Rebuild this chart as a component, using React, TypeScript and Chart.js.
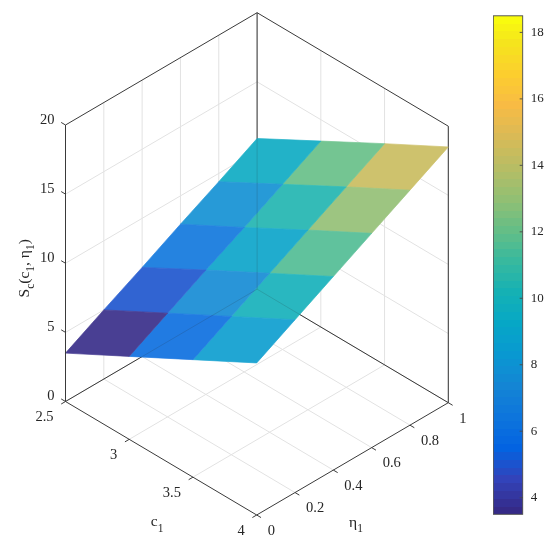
import React, { useEffect, useRef } from "react";
import { Chart, registerables } from "chart.js";

Chart.register(...registerables);

// ---------------- data ----------------
const C_VALUES = [2.5, 3, 3.5, 4];
const ETA_VALUES = [0, 0.2, 0.4, 0.6, 0.8, 1];
// S_c(c_1, eta_1) read at every grid node, one list per c value (along eta)
const S_AT_C_2_5 = [3.5, 5.0, 6.45, 7.95, 9.4, 10.9];
const S_AT_C_3_0 = [6.0, 7.5, 9.0, 10.45, 11.95, 13.45];
const S_AT_C_3_5 = [8.5, 10.0, 11.5, 13.0, 14.5, 16.0];
const S_AT_C_4_0 = [11.0, 12.5, 14.0, 15.5, 17.0, 18.5];

const C_LIMITS = [2.5, 4];
const ETA_LIMITS = [0, 1];
const Z_LIMITS = [0, 20];
const C_TICKS = [2.5, 3, 3.5, 4];
const C_TICK_LABELS = ["2.5", "3", "3.5", "4"];
const ETA_TICKS = [0, 0.2, 0.4, 0.6, 0.8, 1];
const ETA_TICK_LABELS = ["0", "0.2", "0.4", "0.6", "0.8", "1"];
const Z_TICKS = [0, 5, 10, 15, 20];
const Z_TICK_LABELS = ["0", "5", "10", "15", "20"];
const CB_LIMITS = [3.5, 18.5];
const CB_TICKS = [4, 6, 8, 10, 12, 14, 16, 18];

// ---------------- style ----------------
const FONT = '"Liberation Serif", "Times New Roman", serif';
const TEXT = "#262626";
const AXIS = "#3a3a3a";
const GRID = "#e2e2e2";
const FACE_ALPHA = 0.9;
const VIEW = { ox: 65.5, oy: 401.5, cdx: 191.2, cdy: 113.5, edx: 191.6, edy: -112.3, zdy: -276.5 };

// parula colormap anchors (index in 64-colour map, r, g, b)
const PARULA_ANCHORS = [
  [0, 53, 42, 135], [4, 50, 67, 186], [8, 3, 99, 225], [12, 13, 117, 220],
  [16, 20, 133, 212], [20, 9, 152, 209], [24, 6, 167, 198], [28, 21, 177, 180],
  [32, 56, 185, 158], [36, 101, 190, 134], [40, 146, 191, 115], [44, 183, 189, 100],
  [48, 217, 186, 86], [52, 248, 187, 68], [56, 252, 206, 46], [60, 245, 228, 29],
  [63, 249, 251, 14],
];

function parulaAt(k: number): number[] {
  for (let i = 0; i < PARULA_ANCHORS.length - 1; i++) {
    const a = PARULA_ANCHORS[i];
    const b = PARULA_ANCHORS[i + 1];
    if (k >= a[0] && k <= b[0]) {
      const t = (k - a[0]) / (b[0] - a[0]);
      return [1, 2, 3].map((j) => a[j] + (b[j] - a[j]) * t);
    }
  }
  const l = PARULA_ANCHORS[PARULA_ANCHORS.length - 1];
  return [l[1], l[2], l[3]];
}

function levelOf(v: number): number {
  const t = (v - CB_LIMITS[0]) / (CB_LIMITS[1] - CB_LIMITS[0]);
  return Math.max(0, Math.min(63, Math.floor(t * 64)));
}

function faceColor(v: number): string {
  const rgb = parulaAt(levelOf(v)).map((c) => Math.round(c * FACE_ALPHA + 255 * (1 - FACE_ALPHA)));
  return `rgb(${rgb[0]},${rgb[1]},${rgb[2]})`;
}

function proj(c: number, e: number, z: number) {
  const u = (c - C_LIMITS[0]) / (C_LIMITS[1] - C_LIMITS[0]);
  const v = (e - ETA_LIMITS[0]) / (ETA_LIMITS[1] - ETA_LIMITS[0]);
  const w = (z - Z_LIMITS[0]) / (Z_LIMITS[1] - Z_LIMITS[0]);
  return {
    x: VIEW.ox + u * VIEW.cdx + v * VIEW.edx,
    y: VIEW.oy + u * VIEW.cdy + v * VIEW.edy + w * VIEW.zdy,
  };
}

type P3 = [number, number, number];

function lineDs(a: P3, b: P3, color: string, width: number, order: number) {
  return {
    data: [proj(a[0], a[1], a[2]), proj(b[0], b[1], b[2])],
    showLine: true,
    borderColor: color,
    borderWidth: width,
    pointRadius: 0,
    pointHoverRadius: 0,
    pointHitRadius: 0,
    fill: false,
    clip: false,
    order,
  };
}

function polyDs(pts: P3[], color: string, order: number) {
  const data = pts.map((p) => proj(p[0], p[1], p[2]));
  data.push(data[0]);
  return {
    data,
    showLine: true,
    fill: "shape",
    backgroundColor: color,
    borderColor: color,
    borderWidth: 0.7,
    pointRadius: 0,
    pointHoverRadius: 0,
    pointHitRadius: 0,
    clip: false,
    order,
  };
}

function buildDatasets() {
  const [c0, c1] = C_LIMITS;
  const [e0, e1] = ETA_LIMITS;
  const [z0, z1] = Z_LIMITS;
  const ds: any[] = [];
  const innerC = C_TICKS.filter((c) => c > c0 && c < c1);
  const innerE = ETA_TICKS.filter((e) => e > e0 && e < e1);
  const innerZ = Z_TICKS.filter((z) => z > z0 && z < z1);
  // grid: floor
  innerC.forEach((c) => ds.push(lineDs([c, e0, z0], [c, e1, z0], GRID, 1, 100)));
  innerE.forEach((e) => ds.push(lineDs([c0, e, z0], [c1, e, z0], GRID, 1, 100)));
  // grid: wall c = c0
  innerE.forEach((e) => ds.push(lineDs([c0, e, z0], [c0, e, z1], GRID, 1, 100)));
  innerZ.forEach((z) => ds.push(lineDs([c0, e0, z], [c0, e1, z], GRID, 1, 100)));
  // grid: wall eta = e1
  innerC.forEach((c) => ds.push(lineDs([c, e1, z0], [c, e1, z1], GRID, 1, 100)));
  innerZ.forEach((z) => ds.push(lineDs([c0, e1, z], [c1, e1, z], GRID, 1, 100)));
  // back box edges
  const back: [P3, P3][] = [
    [[c0, e1, z0], [c0, e1, z1]],
    [[c1, e1, z0], [c1, e1, z1]],
    [[c0, e0, z0], [c0, e1, z0]],
    [[c0, e1, z0], [c1, e1, z0]],
    [[c0, e0, z1], [c0, e1, z1]],
    [[c0, e1, z1], [c1, e1, z1]],
  ];
  back.forEach(([a, b]) => ds.push(lineDs(a, b, AXIS, 1, 90)));
  // surface
  const S = [S_AT_C_2_5, S_AT_C_3_0, S_AT_C_3_5, S_AT_C_4_0];
  for (let i = 0; i < C_VALUES.length - 1; i++) {
    for (let j = 0; j < ETA_VALUES.length - 1; j++) {
      const pts: P3[] = [
        [C_VALUES[i], ETA_VALUES[j], S[i][j]],
        [C_VALUES[i + 1], ETA_VALUES[j], S[i + 1][j]],
        [C_VALUES[i + 1], ETA_VALUES[j + 1], S[i + 1][j + 1]],
        [C_VALUES[i], ETA_VALUES[j + 1], S[i][j + 1]],
      ];
      ds.push(polyDs(pts, faceColor(S[i][j]), 50));
    }
  }
  // back edges seen faintly through the translucent surface
  back.slice(0, 4).forEach(([a, b]) => ds.push(lineDs(a, b, "rgba(38,38,38,0.16)", 1, 40)));
  // front axes
  ds.push(lineDs([c0, e0, z0], [c0, e0, z1], AXIS, 1, 10));
  ds.push(lineDs([c0, e0, z0], [c1, e0, z0], AXIS, 1, 10));
  ds.push(lineDs([c1, e0, z0], [c1, e1, z0], AXIS, 1, 10));
  // ticks
  Z_TICKS.forEach((z) => ds.push(lineDs([c0, e0, z], [c0 - 0.034, e0, z], AXIS, 1, 10)));
  C_TICKS.forEach((c) => ds.push(lineDs([c, e0, z0], [c, e0 - 0.0225, z0], AXIS, 1, 10)));
  ETA_TICKS.forEach((e) => ds.push(lineDs([c1, e, z0], [c1 + 0.034, e, z0], AXIS, 1, 10)));
  return ds;
}

type Part = [string, boolean];

function drawRich(ctx: CanvasRenderingContext2D, parts: Part[], cx: number, base: number, size: number, subSize: number, subShift: number) {
  const mainFont = `${size}px ${FONT}`;
  const subFont = `${subSize}px ${FONT}`;
  let total = 0;
  const widths = parts.map(([t, sub]) => {
    ctx.font = sub ? subFont : mainFont;
    const w = ctx.measureText(t).width;
    total += w;
    return w;
  });
  let x = cx - total / 2;
  ctx.textAlign = "left";
  ctx.textBaseline = "alphabetic";
  parts.forEach(([t, sub], i) => {
    ctx.font = sub ? subFont : mainFont;
    ctx.fillText(t, x, base + (sub ? subShift : 0));
    x += widths[i];
  });
}

const labels3dPlugin = {
  id: "labels3d",
  afterDatasetsDraw(chart: any) {
    const ctx: CanvasRenderingContext2D = chart.ctx;
    const sx = chart.scales.x;
    const sy = chart.scales.y;
    const P = (c: number, e: number, z: number) => {
      const p = proj(c, e, z);
      return [sx.getPixelForValue(p.x), sy.getPixelForValue(p.y)];
    };
    const [c0, c1] = C_LIMITS;
    const [e0, e1] = ETA_LIMITS;
    const [z0, z1] = Z_LIMITS;
    ctx.save();
    ctx.fillStyle = TEXT;
    ctx.font = `14.5px ${FONT}`;
    ctx.textAlign = "right";
    ctx.textBaseline = "middle";
    Z_TICKS.forEach((z, i) => {
      const [x, y] = P(c0, e0, z);
      ctx.fillText(Z_TICK_LABELS[i], x - 11, y - 5);
    });
    C_TICKS.forEach((c, i) => {
      const [x, y] = P(c, e0, z0);
      ctx.fillText(C_TICK_LABELS[i], x - 12, y + 16);
    });
    ctx.textAlign = "left";
    ETA_TICKS.forEach((e, i) => {
      const [x, y] = P(c1, e, z0);
      ctx.fillText(ETA_TICK_LABELS[i], x + 11, y + 16);
    });
    // axis titles
    const [cx, cy] = P((c0 + c1) / 2, e0, z0);
    drawRich(ctx, [["c", false], ["1", true]], cx - 4, cy + 68, 15.5, 11.5, 5.5);
    const [ex, ey] = P(c1, (e0 + e1) / 2, z0);
    drawRich(ctx, [["\u03b7", false], ["1", true]], ex + 3.5, ey + 68, 15.5, 11.5, 5.5);
    const [zx, zy] = P(c0, e0, (z0 + z1) / 2);
    ctx.translate(zx - 37, zy + 5);
    ctx.rotate(-Math.PI / 2);
    drawRich(
      ctx,
      [["S", false], ["c", true], ["(c", false], ["1", true], [", ", false], ["\u03b7", false], ["1", true], [")", false]],
      0, 0, 15.5, 11.5, 5.5
    );
    ctx.restore();
  },
};

const colorbarFramePlugin = {
  id: "cbframe",
  afterDatasetsDraw(chart: any) {
    const { ctx, chartArea: a, scales } = chart;
    ctx.save();
    ctx.strokeStyle = "#4a4a4a";
    ctx.lineWidth = 0.9;
    ctx.strokeRect(a.left, a.top, a.right - a.left, a.bottom - a.top);
    CB_TICKS.forEach((v) => {
      const y = scales.y.getPixelForValue(v);
      ctx.beginPath();
      ctx.moveTo(a.right - 3, y);
      ctx.lineTo(a.right, y);
      ctx.stroke();
    });
    ctx.restore();
  },
};

export default function App() {
  const mainRef = useRef<HTMLCanvasElement>(null);
  const cbRef = useRef<HTMLCanvasElement>(null);

  useEffect(() => {
    const main = new Chart(mainRef.current as HTMLCanvasElement, {
      type: "scatter",
      data: { datasets: buildDatasets() as any },
      options: {
        animation: false,
        responsive: false,
        events: [],
        layout: { padding: 0 },
        plugins: { legend: { display: false }, tooltip: { enabled: false } },
        scales: {
          x: { type: "linear", display: false, min: 0, max: 550 },
          y: { type: "linear", display: false, min: 0, max: 546, reverse: true },
        },
      } as any,
      plugins: [labels3dPlugin],
    });

    const cb = new Chart(cbRef.current as HTMLCanvasElement, {
      type: "bar",
      data: {
        labels: [""],
        datasets: [
          {
            data: [CB_LIMITS] as any,
            borderWidth: 0,
            barPercentage: 1,
            categoryPercentage: 1,
            backgroundColor: (context: any) => {
              const chart = context.chart;
              const { ctx, chartArea, scales } = chart;
              if (!chartArea) return "rgb(53,42,135)";
              const y0 = scales.y.getPixelForValue(CB_LIMITS[0]);
              const y1 = scales.y.getPixelForValue(CB_LIMITS[1]);
              const g = ctx.createLinearGradient(0, y0, 0, y1);
              for (let k = 0; k < 64; k++) {
                const rgb = parulaAt(k).map((v) => Math.round(v));
                const col = `rgb(${rgb[0]},${rgb[1]},${rgb[2]})`;
                g.addColorStop(k / 64, col);
                g.addColorStop((k + 1) / 64, col);
              }
              return g;
            },
          },
        ],
      },
      options: {
        animation: false,
        responsive: false,
        events: [],
        layout: { padding: { top: 13.3, bottom: 31.7, left: 0.3, right: 0 } },
        plugins: { legend: { display: false }, tooltip: { enabled: false } },
        scales: {
          x: { display: false },
          y: {
            position: "right",
            min: CB_LIMITS[0],
            max: CB_LIMITS[1],
            afterBuildTicks: (s: any) => {
              s.ticks = CB_TICKS.map((v) => ({ value: v }));
            },
            afterFit: (s: any) => {
              s.width = 27.3;
            },
            grid: { display: false, drawTicks: false, tickLength: 0 },
            border: { display: false },
            ticks: { padding: 8, color: TEXT, font: { family: FONT, size: 13 } },
          },
        },
      } as any,
      plugins: [colorbarFramePlugin],
    });

    return () => {
      main.destroy();
      cb.destroy();
    };
  }, []);

  return (
    <div style={{ position: "fixed", left: 0, top: 0, width: 550, height: 546, background: "#fff" }}>
      <canvas
        ref={mainRef}
        width={550}
        height={546}
        style={{ position: "absolute", left: 0, top: 0, width: 550, height: 546 }}
      />
      <canvas
        ref={cbRef}
        width={57}
        height={546}
        style={{ position: "absolute", left: 493, top: 0, width: 57, height: 546 }}
      />
    </div>
  );
}
